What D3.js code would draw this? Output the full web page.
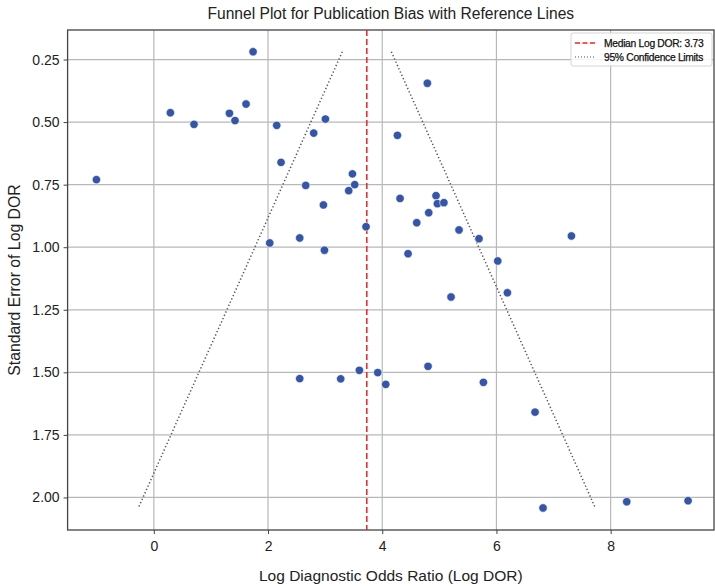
<!DOCTYPE html>
<html><head><meta charset="utf-8">
<script src="https://cdn.jsdelivr.net/npm/d3@7"></script>
<style>body{margin:0;background:#fff;} svg{display:block;font-family:"Liberation Sans",Arial,sans-serif;}</style>
</head><body><svg id="c" width="715" height="588"></svg>
<script>
const logDOR = [-1.005,0.29,0.704,1.324,1.422,1.615,1.738,2.152,2.228,3.005,2.80,2.66,3.478,3.518,3.413,2.970,3.716,2.030,2.555,2.988,
  4.79,4.266,4.312,4.942,4.966,5.08,4.814,4.604,5.345,5.695,7.313,4.452,6.023,6.192,5.205,4.802,4.061,5.772,6.676,6.816,8.282,9.356,
  2.555,3.273,3.60,3.921];
const seLogDOR = [0.730,0.4625,0.509,0.465,0.494,0.428,0.219,0.513,0.661,0.488,0.544,0.753,0.707,0.750,0.774,0.831,0.918,0.983,0.963,1.012,
  0.345,0.553,0.805,0.794,0.826,0.822,0.862,0.902,0.931,0.966,0.955,1.026,1.055,1.182,1.199,1.476,1.548,1.540,1.659,2.042,2.017,2.013,
  1.525,1.526,1.492,1.501];
const medianLogDOR = 3.73;
const xTicks = [0,2,4,6,8];
const yTicks = [0.25,0.5,0.75,1.0,1.25,1.5,1.75,2.0];
const legendLabels = ["Median Log DOR: 3.73","95% Confidence Limits"];

const svg = d3.select("#c");
const L=67.6, R=714, T=30, B=530;
const x = d3.scaleLinear().domain([-1.51, 9.81]).range([L,R]);
const y = d3.scaleLinear().domain([0.132, 2.13]).range([T,B]);

// grid
const g = svg.append("g");
g.selectAll(".gx").data(xTicks).join("line").attr("x1",d=>x(d)).attr("x2",d=>x(d)).attr("y1",T).attr("y2",B)
  .attr("stroke","#b8b8b8").attr("stroke-width",1.2);
g.selectAll(".gy").data(yTicks).join("line").attr("y1",d=>y(d)).attr("y2",d=>y(d)).attr("x1",L).attr("x2",R)
  .attr("stroke","#b8b8b8").attr("stroke-width",1.2);

// axes
const xa = svg.append("g").attr("transform",`translate(0,${B})`).call(d3.axisBottom(x).tickValues(xTicks).tickFormat(d3.format("d")).tickSize(4).tickPadding(7));
const ya = svg.append("g").attr("transform",`translate(${L},0)`).call(d3.axisLeft(y).tickValues(yTicks).tickFormat(d3.format(".2f")).tickSize(4).tickPadding(4));
[xa,ya].forEach(a=>{a.select(".domain").remove();a.selectAll("text").attr("font-size",14).attr("fill","#222").attr("font-family","Liberation Sans, Arial, sans-serif");a.selectAll("line").attr("stroke","#444");});

// frame
svg.append("rect").attr("x",L).attr("y",T).attr("width",R-L).attr("height",B-T).attr("fill","none").attr("stroke","#444").attr("stroke-width",1.3);

// confidence lines
const seMin = d3.min(seLogDOR), seMax = d3.max(seLogDOR);
const ln = d3.line().x(d=>x(d[0])).y(d=>y(d[1]));
[-1,1].forEach(s=>{
  svg.append("path").attr("d",ln([[medianLogDOR+s*1.96*seMin,seMin],[medianLogDOR+s*1.96*seMax,seMax]]))
    .attr("stroke","#555").attr("stroke-width",1.5).attr("stroke-dasharray","1.3,2.3").attr("fill","none");
});
// median line
svg.append("line").attr("x1",x(medianLogDOR)).attr("x2",x(medianLogDOR)).attr("y1",T).attr("y2",B)
  .attr("stroke","#ee2222").attr("stroke-width",1.5).attr("stroke-dasharray","6,3");

// points
svg.append("g").selectAll("circle").data(logDOR.map((v,i)=>[v,seLogDOR[i]])).join("circle")
  .attr("cx",d=>x(d[0])).attr("cy",d=>y(d[1])).attr("r",4.2)
  .attr("fill","#3656a5").attr("stroke","#fff").attr("stroke-width",0.6);

// legend
const lg = svg.append("g").attr("transform","translate(571,33)");
lg.append("rect").attr("width",141).attr("height",33).attr("rx",2).attr("fill","#fff").attr("fill-opacity",0.85).attr("stroke","#d5d5d5");
lg.append("line").attr("x1",4).attr("x2",24).attr("y1",10).attr("y2",10).attr("stroke","#ee2222").attr("stroke-width",1.5).attr("stroke-dasharray","5,2.5");
lg.append("line").attr("x1",4).attr("x2",24).attr("y1",24).attr("y2",24).attr("stroke","#555").attr("stroke-width",1.2).attr("stroke-dasharray","1,2");
lg.selectAll("text").data(legendLabels).join("text").attr("x",33).attr("y",(d,i)=>13.8+i*14).text(d=>d)
  .attr("font-size",10.3).attr("fill","#111").attr("letter-spacing",-0.3).attr("stroke","#111").attr("stroke-width",0.25);

// titles
svg.append("text").attr("x",(L+R)/2).attr("y",18.5).attr("text-anchor","middle").attr("font-size",15.6).attr("fill","#222")
  .text("Funnel Plot for Publication Bias with Reference Lines");
svg.append("text").attr("x",(L+R)/2).attr("y",580.5).attr("text-anchor","middle").attr("font-size",15.5).attr("fill","#222")
  .text("Log Diagnostic Odds Ratio (Log DOR)");
svg.append("text").attr("transform",`translate(20,${(T+B)/2}) rotate(-90)`).attr("text-anchor","middle").attr("font-size",15.8).attr("fill","#222")
  .text("Standard Error of Log DOR");
</script></body></html>
